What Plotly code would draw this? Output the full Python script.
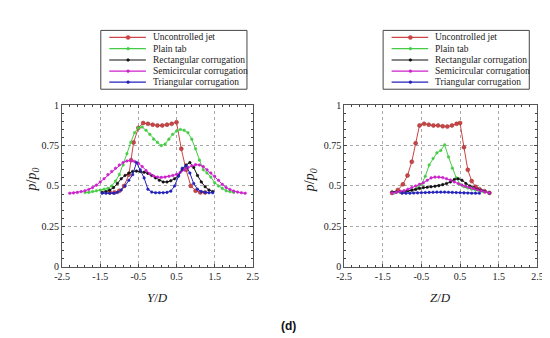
import plotly.graph_objects as go

# ---------------- data ----------------
series_names = ["Uncontrolled jet", "Plain tab", "Rectangular corrugation",
                "Semicircular corrugation", "Triangular corrugation"]
series_colors = ["#cc4444", "#44cc44", "#111111", "#cc22cc", "#2222bb"]

# Left panel: p/p0 vs Y/D
y_unc_x = [-1.25, -1.125, -1.0, -0.875, -0.75, -0.69, -0.625, -0.5, -0.375, -0.25,
           -0.125, 0.0, 0.125, 0.25, 0.375, 0.5, 0.625, 0.75, 0.875, 1.0, 1.125, 1.25]
y_unc_v = [0.46, 0.46, 0.47, 0.50, 0.57, 0.66, 0.77, 0.86, 0.89, 0.885,
           0.88, 0.875, 0.875, 0.88, 0.885, 0.895, 0.73, 0.60, 0.50, 0.47, 0.46, 0.46]

y_tab_x = [-1.9, -1.8, -1.7, -1.6, -1.5, -1.4, -1.3, -1.2, -1.1, -1.0, -0.9, -0.8, -0.7,
           -0.6, -0.5, -0.4, -0.3, -0.2, -0.1, 0.0, 0.1, 0.2, 0.3, 0.4, 0.5, 0.6, 0.7,
           0.8, 0.9, 1.0, 1.1, 1.2, 1.3, 1.4, 1.5, 1.6, 1.7, 1.8, 1.9, 2.0]
y_tab_v = [0.46, 0.46, 0.465, 0.47, 0.475, 0.48, 0.485, 0.50, 0.53, 0.57, 0.63, 0.70, 0.77,
           0.83, 0.86, 0.865, 0.845, 0.82, 0.79, 0.77, 0.75, 0.76, 0.79, 0.82, 0.84, 0.85, 0.845,
           0.83, 0.79, 0.73, 0.66, 0.60, 0.58, 0.555, 0.52, 0.50, 0.485, 0.47, 0.465, 0.46]

y_rect_x = [-1.45, -1.35, -1.25, -1.15, -1.05, -0.95, -0.85, -0.75, -0.65, -0.55, -0.45,
            -0.35, -0.25, -0.15, -0.05, 0.05, 0.15, 0.25, 0.35, 0.45, 0.55, 0.65, 0.75,
            0.85, 0.95, 1.05, 1.15, 1.25, 1.35, 1.45]
y_rect_v = [0.46, 0.465, 0.475, 0.49, 0.515, 0.545, 0.565, 0.58, 0.59, 0.592, 0.59,
            0.585, 0.578, 0.565, 0.55, 0.535, 0.525, 0.525, 0.532, 0.545, 0.565, 0.60, 0.63,
            0.645, 0.615, 0.565, 0.525, 0.495, 0.475, 0.465]

y_semi_x = [-2.3, -2.2, -2.1, -2.0, -1.9, -1.8, -1.7, -1.6, -1.5, -1.4, -1.3, -1.2, -1.1,
            -1.0, -0.9, -0.8, -0.7, -0.6, -0.5, -0.4, -0.3, -0.2, -0.1, 0.0, 0.1, 0.2,
            0.3, 0.4, 0.5, 0.6, 0.7, 0.8, 0.9, 1.0, 1.1, 1.2, 1.3, 1.4, 1.5, 1.6, 1.7,
            1.8, 1.9, 2.0, 2.1, 2.2, 2.3]
y_semi_v = [0.455, 0.457, 0.46, 0.465, 0.47, 0.478, 0.49, 0.505, 0.525, 0.545, 0.57, 0.59, 0.61,
            0.63, 0.645, 0.655, 0.658, 0.652, 0.64, 0.62, 0.595, 0.575, 0.562, 0.555, 0.553, 0.555,
            0.56, 0.565, 0.572, 0.585, 0.60, 0.615, 0.625, 0.632, 0.63, 0.62, 0.60, 0.58, 0.56, 0.535, 0.51,
            0.49, 0.478, 0.468, 0.462, 0.458, 0.455]

y_tri_x = y_rect_x
y_tri_v = [0.455, 0.455, 0.455, 0.455, 0.46, 0.475, 0.50, 0.535, 0.57, 0.645, 0.60,
           0.55, 0.48, 0.462, 0.458, 0.458, 0.458, 0.46, 0.468, 0.50, 0.56, 0.61, 0.625,
           0.58, 0.515, 0.48, 0.465, 0.46, 0.458, 0.458]

# Right panel: p/p0 vs Z/D
z_unc_x = [-1.26, -1.11, -0.98, -0.86, -0.75, -0.65, -0.55, -0.43, -0.31, -0.19, -0.07,
           0.05, 0.17, 0.29, 0.41, 0.5, 0.6, 0.7, 0.8, 0.9, 1.0, 1.13, 1.26]
z_unc_v = [0.457, 0.475, 0.51, 0.565, 0.65, 0.765, 0.875, 0.885, 0.88, 0.875, 0.875,
           0.87, 0.868, 0.875, 0.885, 0.89, 0.74, 0.60, 0.53, 0.495, 0.48, 0.468, 0.457]

z_tab_x = [-1.2, -1.05, -0.9, -0.75, -0.6, -0.5, -0.4, -0.3, -0.2, -0.1, 0.0, 0.1, 0.2,
           0.3, 0.4, 0.5, 0.6, 0.7, 0.8, 0.9, 1.0, 1.1, 1.25]
z_tab_v = [0.457, 0.46, 0.465, 0.475, 0.49, 0.51, 0.56, 0.63, 0.67, 0.705, 0.72, 0.755, 0.68,
           0.61, 0.55, 0.51, 0.495, 0.487, 0.48, 0.475, 0.47, 0.465, 0.457]

z_grid_x = [-1.26, -1.15, -1.05, -0.95, -0.85, -0.75, -0.65, -0.55, -0.45, -0.35, -0.25,
            -0.15, -0.05, 0.05, 0.15, 0.25, 0.35, 0.45, 0.55, 0.65, 0.75, 0.85, 0.95,
            1.05, 1.15, 1.26]
z_rect_v = [0.463, 0.463, 0.465, 0.467, 0.47, 0.473, 0.478, 0.485, 0.49, 0.492, 0.495,
            0.498, 0.502, 0.508, 0.515, 0.525, 0.54, 0.545, 0.535, 0.515, 0.50, 0.49, 0.48,
            0.473, 0.465, 0.457]
z_semi_v = [0.457, 0.46, 0.465, 0.47, 0.48, 0.49, 0.50, 0.51, 0.52, 0.535, 0.55,
            0.555, 0.555, 0.552, 0.545, 0.537, 0.525, 0.515, 0.505, 0.497, 0.49, 0.485, 0.477,
            0.47, 0.463, 0.457]

z_tri_x = [-1.0, -0.9, -0.8, -0.7, -0.6, -0.5, -0.4, -0.3, -0.2, -0.1, 0.0, 0.1, 0.2,
           0.3, 0.4, 0.5, 0.6, 0.7, 0.8, 0.9, 1.0]
z_tri_v = [0.455, 0.455, 0.455, 0.456, 0.457, 0.458, 0.459, 0.46, 0.461, 0.462, 0.462,
           0.462, 0.461, 0.46, 0.459, 0.458, 0.457, 0.456, 0.455, 0.455, 0.455]

x_tick_vals = [-2.5, -1.5, -0.5, 0.5, 1.5, 2.5]
x_tick_text = ["-2.5", "-1.5", "-0.5", "0.5", "1.5", "2.5"]
y_tick_vals = [0, 0.25, 0.5, 0.75, 1]
y_tick_text = ["0", "0.25", "0.5", "0.75", "1"]

# ---------------- figure ----------------
W, H = 550, 338
SERIF = "'Liberation Serif', 'Times New Roman', Times, serif"
fig = go.Figure()

left = [(y_unc_x, y_unc_v), (y_tab_x, y_tab_v), (y_rect_x, y_rect_v),
        (y_semi_x, y_semi_v), (y_tri_x, y_tri_v)]
right = [(z_unc_x, z_unc_v), (z_tab_x, z_tab_v), (z_grid_x, z_rect_v),
         (z_grid_x, z_semi_v), (z_tri_x, z_tri_v)]

for panel, (xa, ya) in [(left, ("x", "y")), (right, ("x2", "y2"))]:
    for i in range(5):
        xs, vs = panel[i]
        big = (i == 0)
        fig.add_trace(go.Scatter(
            x=xs, y=vs, mode="lines+markers", name=series_names[i],
            showlegend=False, xaxis=xa, yaxis=ya,
            line=dict(color=series_colors[i], width=1),
            marker=dict(color=series_colors[i], size=4 if big else 2.6,
                        symbol="circle",
                        line=dict(color="#993333" if big else series_colors[i], width=0.5)),
        ))

def xaxis(domain, anchor):
    return dict(domain=domain, anchor=anchor, range=[-2.5, 2.5],
                tickmode="array", tickvals=x_tick_vals, ticktext=x_tick_text,
                ticks="inside", ticklen=3, tickcolor="#444",
                minor=dict(ticks="inside", ticklen=2, tick0=-2.5, dtick=0.2, tickcolor="#444",
                           showgrid=False),
                showline=True, linecolor="#555", linewidth=1, mirror="ticks",
                showgrid=True, gridcolor="#a8a8a8", griddash="dot", gridwidth=1,
                zeroline=False, tickfont=dict(family=SERIF, size=10, color="#222"))

def yaxis(anchor):
    return dict(domain=[0.225, 0.72], anchor=anchor, range=[0, 1],
                tickmode="array", tickvals=y_tick_vals, ticktext=y_tick_text,
                ticks="inside", ticklen=3, tickcolor="#444",
                minor=dict(ticks="inside", ticklen=2, tick0=0, dtick=0.05, tickcolor="#444",
                           showgrid=False),
                showline=True, linecolor="#555", linewidth=1, mirror="ticks",
                showgrid=True, gridcolor="#a8a8a8", griddash="dot", gridwidth=1,
                zeroline=False, tickfont=dict(family=SERIF, size=10, color="#222"))

fig.update_layout(
    width=W, height=H, margin=dict(l=0, r=0, t=0, b=0),
    paper_bgcolor="white", plot_bgcolor="white",
    font=dict(family=SERIF, size=10, color="#222"),
    xaxis=xaxis([47.3 / W, 243 / W], "y"),
    yaxis=yaxis("x"),
    xaxis2=xaxis([336.7 / W, 535 / W], "y2"),
    yaxis2=yaxis("x2"),
    showlegend=False,
)

# axis titles and caption
ann = [
    dict(text="<i>p</i>/<i>p</i><sub><i>0</i></sub>", x=17 / W, y=1 - 172 / H, textangle=-90,
         font=dict(family=SERIF, size=14, color="#222")),
    dict(text="<i>p</i>/<i>p</i><sub><i>0</i></sub>", x=303 / W, y=1 - 172 / H, textangle=-90,
         font=dict(family=SERIF, size=14, color="#222")),
    dict(text="<i>Y</i>/<i>D</i>", x=145 / W, y=1 - 294 / H,
         font=dict(family=SERIF, size=13, color="#222")),
    dict(text="<i>Z</i>/<i>D</i>", x=436 / W, y=1 - 294 / H,
         font=dict(family=SERIF, size=13, color="#222")),
    dict(text="<b>(d)</b>", x=280 / W, y=1 - 323 / H,
         font=dict(family="'Liberation Sans', Arial, sans-serif", size=12, color="#111")),
]
for a in ann:
    a.update(xref="paper", yref="paper", showarrow=False, xanchor="center", yanchor="middle")
    fig.add_annotation(**a)

# hand-built legends (one per panel)
row_y = [24.3, 36.0, 47.7, 59.3, 70.7]
for box_left in [87.0, 376.7]:
    fig.add_shape(type="rect", xref="paper", yref="paper",
                  x0=box_left / W, x1=(box_left + 150) / W, y0=1 - 78 / H, y1=1 - 17 / H,
                  line=dict(color="#444", width=1), fillcolor="white")
    for i, ry in enumerate(row_y):
        yy = 1 - ry / H
        fig.add_shape(type="line", xref="paper", yref="paper",
                      x0=(box_left + 8.7) / W, x1=(box_left + 46.3) / W, y0=yy, y1=yy,
                      line=dict(color=series_colors[i], width=1.2))
        r = 2.1 if i == 0 else 1.4
        cx = box_left + 28
        fig.add_shape(type="circle", xref="paper", yref="paper",
                      x0=(cx - r) / W, x1=(cx + r) / W, y0=yy - r / H, y1=yy + r / H,
                      line=dict(color=series_colors[i], width=0.5), fillcolor=series_colors[i])
        fig.add_annotation(text=series_names[i], xref="paper", yref="paper",
                           x=(box_left + 51.3) / W, y=yy, xanchor="left", yanchor="middle",
                           showarrow=False, font=dict(family=SERIF, size=9.5, color="#222"))

fig.write_html("out.html")
